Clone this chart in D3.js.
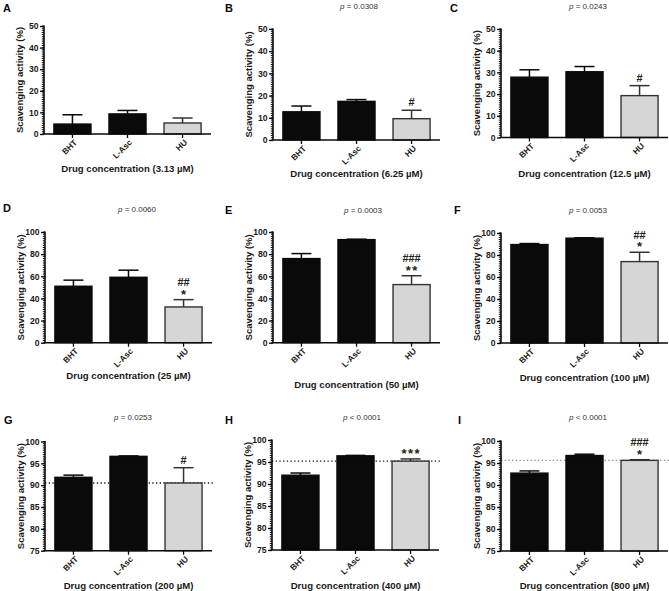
<!DOCTYPE html>
<html><head><meta charset="utf-8">
<script src="https://cdn.jsdelivr.net/npm/d3@7"></script>
<style>
html,body{margin:0;padding:0;background:#fff;}
svg{display:block;font-family:Arial,"Liberation Sans",Helvetica,sans-serif;}
</style></head>
<body>
<svg id="chart" width="669" height="591"></svg>
<script>
// ---------------- DATA ----------------
const categories = ["BHT", "L-Asc", "HU"];
const panelLabels = ["A", "B", "C", "D", "E", "F", "G", "H", "I"];
const concentrations = ["3.13", "6.25", "12.5", "25", "50", "100", "200", "400", "800"];
const pValues = [null, "= 0.0308", "= 0.0243", "= 0.0060", "= 0.0003", "= 0.0053", "= 0.0253", "< 0.0001", "< 0.0001"];
const bhtMean = [4.6, 12.7, 27.8, 51.0, 76.0, 89.5, 91.8, 92.0, 92.7];
const bhtErr  = [4.3, 2.6, 3.4, 5.5, 4.5, 0.9, 0.5, 0.5, 0.5];
const lascMean = [9.3, 17.4, 30.3, 59.1, 93.1, 95.3, 96.6, 96.4, 96.7];
const lascErr  = [1.6, 0.8, 2.4, 6.4, 0.4, 0.4, 0.1, 0.1, 0.3];
const huMean = [5.1, 9.6, 19.3, 32.3, 52.5, 74.0, 90.5, 95.2, 95.6];
const huErr  = [2.3, 3.8, 4.6, 6.6, 8.0, 8.5, 3.5, 0.5, 0.15];
const yDomains = [[0, 50], [0, 50], [0, 50], [0, 100], [0, 100], [0, 100], [75, 100], [75, 100], [75, 100]];
const yTicks50 = [0, 10, 20, 30, 40, 50];
const yTicks100 = [0, 20, 40, 60, 80, 100];
const yTicks75 = [75, 80, 85, 90, 95, 100];
const annotations = [[], ["#"], ["#"], ["*", "##"], ["**", "###"], ["*", "##"], ["#"], ["***"], ["*", "###"]];
const refLines = [null, null, null, null, null, null, 90.5, 95.2, 95.6];

// ---------------- LAYOUT ----------------
const layout = [
  {x0: 44,  x1: 211, yTop: 26,    yBot: 134,   titleY: 172, pX: null, pY: null, lx: 3,   ly: 12},
  {x0: 273, x1: 440, yTop: 29,    yBot: 140,   titleY: 177, pX: 359, pY: 9,   lx: 225, ly: 12},
  {x0: 501, x1: 668, yTop: 29,    yBot: 137.5, titleY: 177, pX: 588, pY: 9,   lx: 450, ly: 12},
  {x0: 45,  x1: 212, yTop: 232,   yBot: 342.7, titleY: 379, pX: 137, pY: 212, lx: 3,   ly: 212},
  {x0: 273, x1: 440, yTop: 232,   yBot: 342.7, titleY: 388, pX: 363, pY: 213, lx: 225, ly: 214},
  {x0: 501, x1: 668, yTop: 233,   yBot: 343,   titleY: 381, pX: 588, pY: 213, lx: 454, ly: 214},
  {x0: 45,  x1: 212, yTop: 441.5, yBot: 550.7, titleY: 589, pX: 133, pY: 420, lx: 4,   ly: 424},
  {x0: 272, x1: 439, yTop: 440,   yBot: 550,   titleY: 589, pX: 362, pY: 420, lx: 225, ly: 424},
  {x0: 501, x1: 668, yTop: 441,   yBot: 551,   titleY: 589, pX: 588, pY: 420, lx: 458, ly: 424}
];
const tickSets = [yTicks50, yTicks50, yTicks50, yTicks100, yTicks100, yTicks100, yTicks75, yTicks75, yTicks75];
const refColors = [null, null, null, null, null, null, "#111", "#111", "#888"];

const svg = d3.select("#chart");
const black = "#0a0a0a";

layout.forEach((L, i) => {
  const g = svg.append("g");
  const dom = yDomains[i];
  const y = d3.scaleLinear().domain(dom).range([L.yBot, L.yTop]);
  const x = d3.scaleBand().domain(categories).range([L.x0, L.x0 + 167])
              .paddingInner(0.327).paddingOuter(0.18);
  const means = [bhtMean[i], lascMean[i], huMean[i]];
  const errs = [bhtErr[i], lascErr[i], huErr[i]];
  const rows = categories.map((c, k) => ({c, m: means[k], e: errs[k], k}));

  // reference dotted line
  if (refLines[i] !== null) {
    g.append("line")
      .attr("x1", L.x0).attr("x2", L.x1 + 3)
      .attr("y1", y(refLines[i])).attr("y2", y(refLines[i]))
      .attr("stroke", refColors[i]).attr("stroke-width", 1.3)
      .attr("stroke-dasharray", "1.3,2.4");
  }

  // error bars
  rows.forEach(r => {
    const cx = x(r.c) + x.bandwidth() / 2;
    const col = r.k === 2 ? "#333" : black;
    g.append("line").attr("x1", cx).attr("x2", cx)
      .attr("y1", y(r.m)).attr("y2", y(r.m + r.e))
      .attr("stroke", col).attr("stroke-width", 1.5);
    g.append("line").attr("x1", cx - 10).attr("x2", cx + 10)
      .attr("y1", y(r.m + r.e)).attr("y2", y(r.m + r.e))
      .attr("stroke", col).attr("stroke-width", 1.5);
  });

  // bars
  g.selectAll("rect.bar").data(rows).join("rect")
    .attr("class", "bar")
    .attr("x", d => x(d.c)).attr("width", x.bandwidth())
    .attr("y", d => y(d.m)).attr("height", d => y(dom[0]) - y(d.m))
    .attr("fill", d => d.k === 2 ? "#d6d6d6" : black)
    .attr("stroke", d => d.k === 2 ? "#333" : black)
    .attr("stroke-width", 1.4);

  // y axis with minor ticks
  const ticks = tickSets[i];
  const step = (ticks[1] - ticks[0]) / 10;
  const minor = d3.range(dom[0], dom[1] + step / 2, step);
  g.selectAll("line.minor").data(minor).join("line")
    .attr("x1", L.x0 - 2.2).attr("x2", L.x0)
    .attr("y1", d => y(d)).attr("y2", d => y(d))
    .attr("stroke", black).attr("stroke-width", 1);
  const yAxis = d3.axisLeft(y).tickValues(ticks).tickSize(4).tickPadding(1.5);
  const ya = g.append("g").attr("transform", `translate(${L.x0},0)`).call(yAxis);
  ya.select(".domain").remove();
  ya.selectAll(".tick line").attr("stroke", black).attr("stroke-width", 1.3);
  ya.selectAll(".tick text").attr("font-size", 8.6).attr("font-weight", "bold")
    .attr("fill", "#1a1a1a").attr("font-family", null);
  g.append("line").attr("x1", L.x0).attr("x2", L.x0)
    .attr("y1", L.yTop - 0.5).attr("y2", L.yBot)
    .attr("stroke", black).attr("stroke-width", 1.6);

  // x axis
  const xa = g.append("g").attr("transform", `translate(0,${L.yBot})`)
    .call(d3.axisBottom(x).tickSize(4).tickSizeOuter(0));
  xa.select(".domain").remove();
  xa.selectAll(".tick line").attr("stroke", black).attr("stroke-width", 1.3);
  xa.selectAll(".tick text")
    .attr("font-size", 8.3).attr("font-weight", "bold").attr("fill", "#1a1a1a")
    .attr("font-family", null)
    .attr("text-anchor", "end")
    .attr("transform", "translate(3,7) rotate(-45)")
    .attr("y", 0).attr("x", 0).attr("dy", "0.35em");
  g.append("line").attr("x1", L.x0 - 0.8).attr("x2", L.x1)
    .attr("y1", L.yBot).attr("y2", L.yBot)
    .attr("stroke", black).attr("stroke-width", 1.6);

  // y title
  g.append("text")
    .attr("transform", `translate(${L.x0 - 24},${(L.yTop + L.yBot) / 2}) rotate(-90)`)
    .attr("text-anchor", "middle").attr("dy", "0.35em")
    .attr("font-size", 9.5).attr("font-weight", "bold").attr("fill", "#1a1a1a")
    .text("Scavenging activity (%)");

  // x title
  g.append("text")
    .attr("x", (L.x0 + L.x1) / 2).attr("y", L.titleY)
    .attr("text-anchor", "middle")
    .attr("font-size", 9.6).attr("font-weight", "bold").attr("fill", "#1a1a1a")
    .text(`Drug concentration (${concentrations[i]} µM)`);

  // panel label
  g.append("text").attr("x", L.lx).attr("y", L.ly)
    .attr("font-size", 11).attr("font-weight", "bold").attr("fill", black)
    .text(panelLabels[i]);

  // p value
  if (pValues[i] !== null) {
    const t = g.append("text").attr("x", L.pX).attr("y", L.pY)
      .attr("text-anchor", "middle").attr("font-size", 8).attr("fill", "#333");
    t.append("tspan").attr("font-style", "italic").text("p");
    t.append("tspan").text(" " + pValues[i]);
  }

  // significance annotations above HU
  const hu = rows[2];
  const cxh = x(hu.c) + x.bandwidth() / 2;
  const topY = y(hu.m + hu.e);
  annotations[i].forEach((s, j) => {
    const center = topY - 8 - j * 9.5;
    const star = s[0] === "*";
    const fs = star ? 13 : 11;
    const off = star ? 0.55 * fs : 0.36 * fs;
    const ls = star ? 1.5 : 0;
    g.append("text").attr("x", cxh + ls / 2).attr("y", center + off)
      .attr("text-anchor", "middle").attr("font-size", fs)
      .attr("font-weight", "bold")
      .attr("letter-spacing", ls + "px")
      .attr("fill", "#222").text(s);
  });
});
</script>
</body></html>
